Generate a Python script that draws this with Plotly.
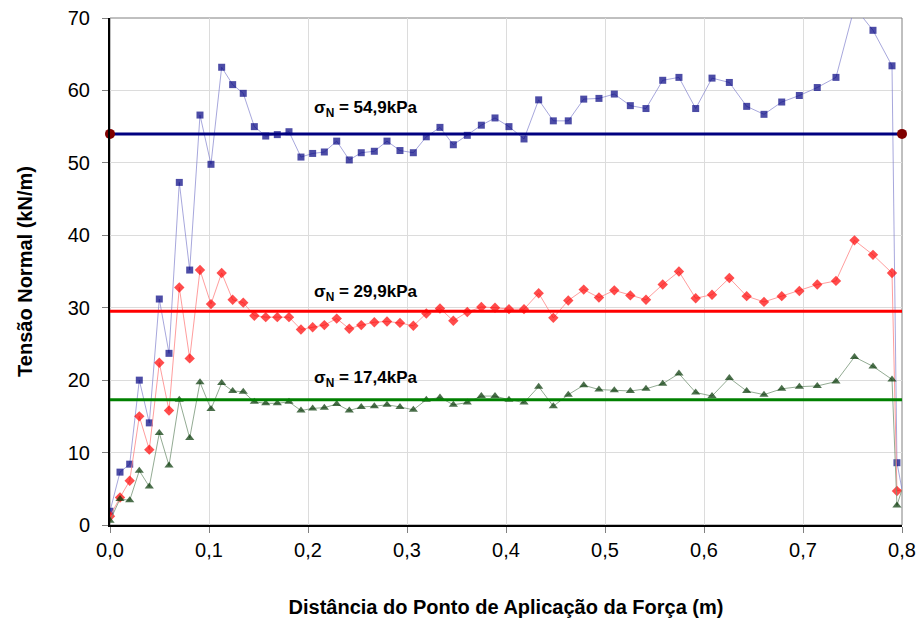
import plotly.graph_objects as go

# Positions along the contact length (m)
distancia = [0.000, 0.0101, 0.0199, 0.0296, 0.0397, 0.0498, 0.0596, 0.0700, 0.0805, 0.0909,
             0.1020, 0.1128, 0.1239, 0.1346, 0.1458, 0.1573, 0.1690, 0.1808, 0.1929, 0.2047,
             0.2165, 0.2290, 0.2417, 0.2538, 0.2670, 0.2798, 0.2929, 0.3064, 0.3195, 0.3333,
             0.3468, 0.3609, 0.3751, 0.3889, 0.4030, 0.4182, 0.4330, 0.4478, 0.4629, 0.4785,
             0.4939, 0.5094, 0.5256, 0.5414, 0.5583, 0.5747, 0.5916, 0.6081, 0.6256, 0.6431,
             0.6606, 0.6785, 0.6963, 0.7144, 0.7333, 0.7520, 0.7707, 0.7899, 0.7949, 0.8000]

# Normal stress distributions (kN/m)
tensao_549 = [1.9, 7.3, 8.4, 20.0, 14.1, 31.2, 23.7, 47.3, 35.2, 56.6,
              49.8, 63.2, 60.8, 59.6, 55.0, 53.7, 53.9, 54.3, 50.8, 51.3,
              51.5, 53.0, 50.4, 51.4, 51.6, 53.0, 51.7, 51.4, 53.6, 54.9,
              52.5, 53.8, 55.2, 56.2, 55.0, 53.3, 58.7, 55.8, 55.8, 58.8,
              58.9, 59.5, 57.9, 57.5, 61.4, 61.8, 57.5, 61.7, 61.1, 57.8,
              56.7, 58.4, 59.3, 60.4, 61.8, 71.5, 68.3, 63.4, 8.6, 4.9]
tensao_299 = [1.2, 3.8, 6.1, 15.0, 10.4, 22.4, 15.8, 32.8, 23.0, 35.2,
              30.5, 34.8, 31.1, 30.7, 28.9, 28.7, 28.7, 28.7, 27.0, 27.3,
              27.6, 28.5, 27.1, 27.6, 28.0, 28.1, 27.9, 27.5, 29.2, 29.9,
              28.2, 29.4, 30.1, 30.0, 29.8, 29.8, 32.0, 28.6, 31.0, 32.5,
              31.4, 32.4, 31.7, 31.1, 33.2, 35.0, 31.3, 31.8, 34.1, 31.6,
              30.8, 31.6, 32.3, 33.2, 33.7, 39.3, 37.3, 34.8, 4.7, 4.9]
tensao_174 = [0.6, 3.6, 3.4, 7.5, 5.3, 12.7, 8.2, 17.3, 12.0, 19.7,
              16.0, 19.6, 18.5, 18.4, 17.0, 16.8, 16.8, 17.0, 15.8, 16.1,
              16.2, 16.7, 15.8, 16.3, 16.4, 16.6, 16.3, 15.9, 17.3, 17.6,
              16.6, 16.9, 17.8, 17.8, 17.3, 16.9, 19.1, 16.4, 18.0, 19.3,
              18.7, 18.6, 18.5, 18.8, 19.5, 20.9, 18.3, 17.8, 20.3, 18.5,
              18.0, 18.8, 19.1, 19.2, 19.8, 23.2, 21.9, 20.1, 2.7, 4.9]

# Mean levels (horizontal reference lines)
limites_x = [0.0, 0.8]
media_549 = [54.0, 54.0]
media_299 = [29.5, 29.5]
media_174 = [17.3, 17.3]

rotulos = ["σ<sub>N</sub> = 54,9kPa", "σ<sub>N</sub> = 29,9kPa", "σ<sub>N</sub> = 17,4kPa"]
rotulos_y = [57.5, 32.0, 20.1]

x_ticks = [0.0, 0.1, 0.2, 0.3, 0.4, 0.5, 0.6, 0.7, 0.8]
x_ticktext = ["0,0", "0,1", "0,2", "0,3", "0,4", "0,5", "0,6", "0,7", "0,8"]
y_ticks = [0, 10, 20, 30, 40, 50, 60, 70]

FONT = "Liberation Sans, Arial, sans-serif"
n = len(distancia)

fig = go.Figure()

series = [
    (tensao_549, "rgba(130,130,205,0.7)", "#000080", "square", 7),
    (tensao_299, "rgba(255,140,140,0.85)", "#ff0000", "diamond", 8),
    (tensao_174, "rgba(120,150,120,0.8)", "#003300", "triangle-up", 8),
]
for ys, lc, mc, sym, ms in series:
    fig.add_trace(go.Scatter(
        x=distancia, y=ys, mode="lines+markers",
        line=dict(color=lc, width=1),
        marker=dict(symbol=sym, color=mc, size=[ms] * (n - 1) + [0], line=dict(width=0)),
        cliponaxis=True, showlegend=False,
    ))

fig.add_trace(go.Scatter(x=limites_x, y=media_549, mode="lines+markers",
                         line=dict(color="#000080", width=3),
                         marker=dict(symbol="circle", color="#800000", size=10),
                         cliponaxis=False, showlegend=False))
fig.add_trace(go.Scatter(x=limites_x, y=media_299, mode="lines",
                         line=dict(color="#ff0000", width=3), showlegend=False))
fig.add_trace(go.Scatter(x=limites_x, y=media_174, mode="lines",
                         line=dict(color="#008000", width=3), showlegend=False))

for txt, yv in zip(rotulos, rotulos_y):
    fig.add_annotation(x=0.258, y=yv, text="<b>" + txt + "</b>", showarrow=False,
                       font=dict(family=FONT, size=17, color="black"),
                       xanchor="center", yanchor="middle")

# plot frame: grey top/right border
fig.add_shape(type="rect", xref="paper", yref="paper", x0=0, y0=0, x1=1, y1=1,
              line=dict(color="#808080", width=1), layer="below")

fig.update_layout(
    width=919, height=623,
    margin=dict(l=110, r=17, t=18, b=98),
    paper_bgcolor="white", plot_bgcolor="white",
    font=dict(family=FONT, size=20, color="black"),
    xaxis=dict(
        range=[0, 0.8], tickvals=x_ticks, ticktext=x_ticktext,
        automargin=False,
        showgrid=True, gridcolor="#dcdcdc", gridwidth=1,
        showline=True, linecolor="black", linewidth=2,
        ticks="outside", ticklen=6, tickcolor="#808080",
        zeroline=False,
        title=dict(text="<b>Distância do Ponto de Aplicação da Força (m)</b>",
                   font=dict(family=FONT, size=20), standoff=40),
    ),
    yaxis=dict(
        range=[0, 70], tickvals=y_ticks,
        automargin=False, ticklabelstandoff=8,
        showgrid=True, gridcolor="#dcdcdc", gridwidth=1,
        showline=True, linecolor="black", linewidth=2,
        ticks="outside", ticklen=6, tickcolor="#808080",
        zeroline=False,
        title=dict(text="<b>Tensão Normal (kN/m)</b>",
                   font=dict(family=FONT, size=20), standoff=30),
    ),
)

fig.write_html("out.html")
